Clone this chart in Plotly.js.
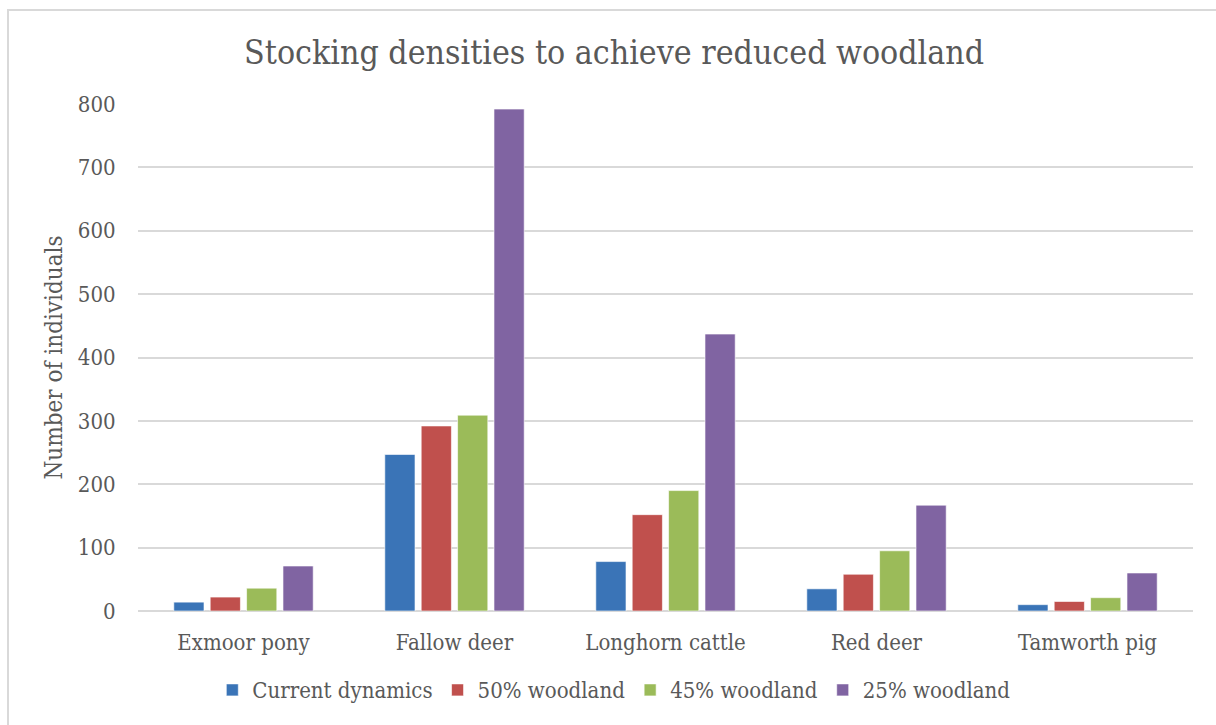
<!DOCTYPE html>
<html>
<head>
<meta charset="utf-8">
<script src="https://cdn.plot.ly/plotly-3.0.1.min.js"></script>
<style>
  html, body { margin: 0; padding: 0; background: #ffffff; }
  #chart { position: absolute; left: 0; top: 0; width: 1216px; height: 725px; }
  #frame { position: absolute; left: 7px; top: 9px; width: 1220px; height: 730px;
           border-left: 2px solid #d9d9d9; border-top: 2px solid #d9d9d9; pointer-events: none; }
</style>
</head>
<body>
<div id="chart"></div>
<div id="frame"></div>
<script>
// Species on the x axis
const categories = ['Exmoor pony', 'Fallow deer', 'Longhorn cattle', 'Red deer', 'Tamworth pig'];

// Number of individuals for each woodland scenario
const currentDynamics = [14, 247, 78, 35, 10];
const woodland50 = [22, 292, 152, 58, 15];
const woodland45 = [36, 309, 190, 95, 21];
const woodland25 = [71, 792, 437, 167, 60];

const seriesNames = ['Current dynamics', '50% woodland', '45% woodland', '25% woodland'];
const seriesColors = ['#3a74b7', '#c0504d', '#9bbb59', '#8064a2'];
const seriesValues = [currentDynamics, woodland50, woodland45, woodland25];

const yTicks = [0, 100, 200, 300, 400, 500, 600, 700, 800];

const font = 'DejaVu Serif Condensed, DejaVu Serif, serif';
const textColor = '#595959';

const traces = seriesValues.map((vals, i) => ({
  type: 'bar',
  name: seriesNames[i],
  x: categories,
  y: vals,
  marker: { color: seriesColors[i], line: { color: 'rgba(255,255,255,0.6)', width: 1 } },
  hoverinfo: 'x+y+name'
}));

const layout = {
  width: 1216,
  height: 725,
  paper_bgcolor: '#ffffff',
  plot_bgcolor: '#ffffff',
  margin: { l: 138, r: 23, t: 104, b: 114 },
  barmode: 'group',
  bargap: 0.31,
  bargroupgap: 0.17,
  font: { family: font, color: textColor, size: 22 },
  title: {
    text: 'Stocking densities to achieve reduced woodland',
    font: { family: font, size: 33.6, color: textColor },
    x: 0.505, xref: 'container', xanchor: 'center',
    y: 0.928, yref: 'container', yanchor: 'middle'
  },
  xaxis: {
    showgrid: false,
    showline: false,
    zeroline: false,
    ticks: 'outside', ticklen: 12, tickcolor: 'rgba(0,0,0,0)',
    tickfont: { family: font, size: 22, color: textColor }
  },
  yaxis: {
    range: [0, 800],
    tickvals: yTicks,
    ticktext: yTicks.map(String),
    showgrid: true,
    gridcolor: '#d9d9d9',
    gridwidth: 2,
    zeroline: true,
    zerolinecolor: '#d9d9d9',
    zerolinewidth: 2,
    showline: false,
    ticks: 'outside', ticklen: 17, tickcolor: 'rgba(0,0,0,0)',
    tickfont: { family: font, size: 22, color: textColor },
    title: { text: 'Number of individuals', font: { family: font, size: 24, color: textColor }, standoff: 8 }
  },
  showlegend: true,
  legend: {
    orientation: 'h',
    x: 0.451, xanchor: 'center',
    y: -0.156, yanchor: 'middle',
    font: { family: font, size: 22, color: textColor },
    itemwidth: 30,
    traceorder: 'normal',
    bgcolor: 'rgba(0,0,0,0)'
  }
};

Plotly.newPlot('chart', traces, layout, { displayModeBar: false, staticPlot: true });
</script>
</body>
</html>
